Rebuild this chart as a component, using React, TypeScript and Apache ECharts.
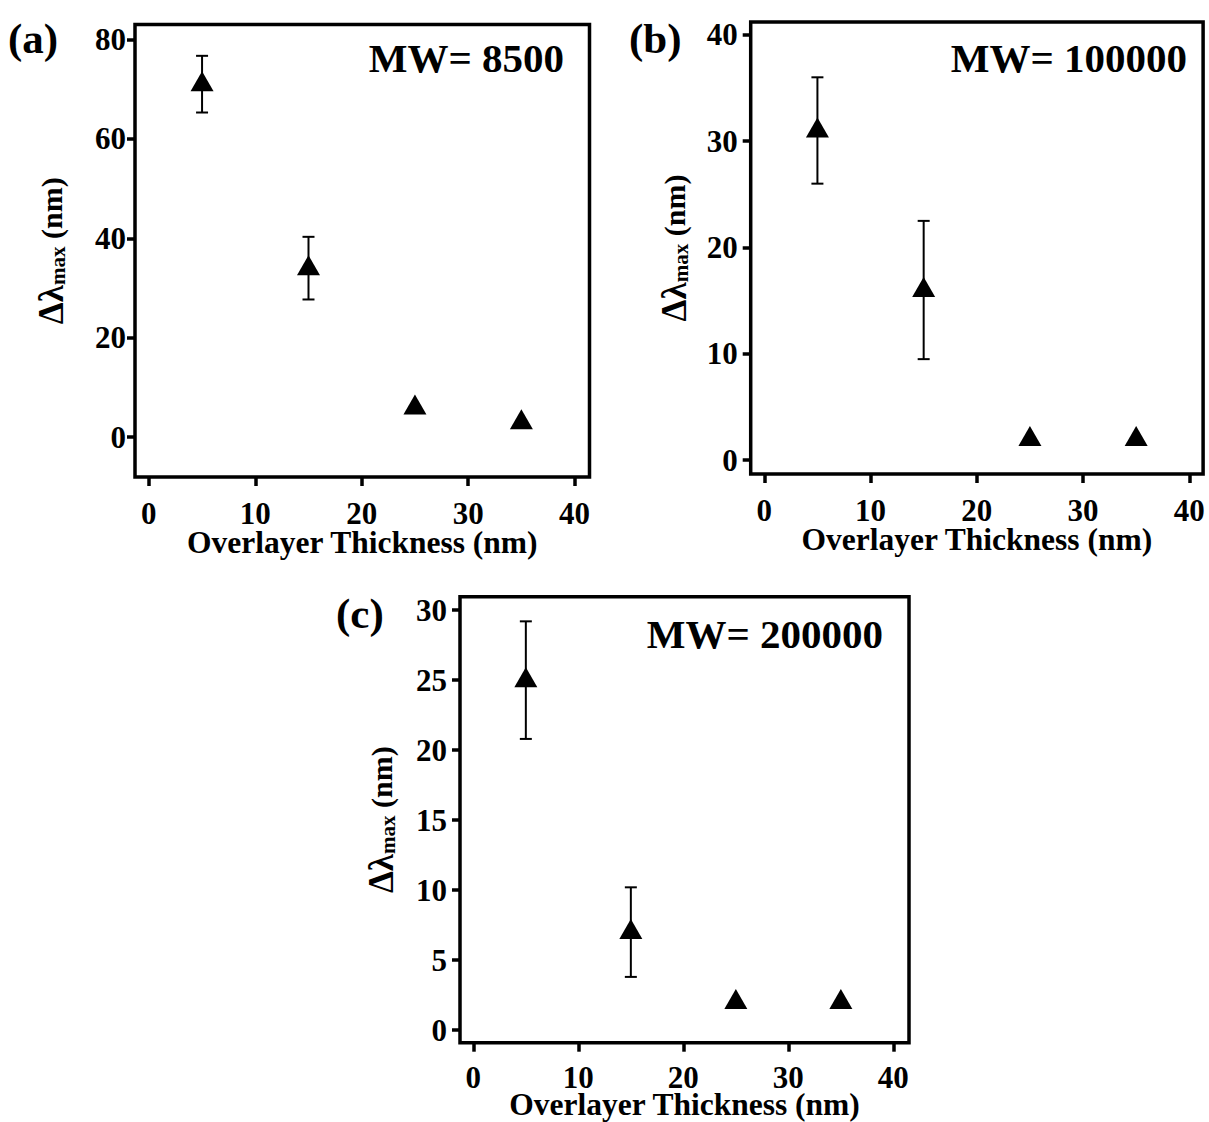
import React, { useEffect, useRef } from "react";
import * as echarts from "echarts";

// ---- data ----
const thickness = [5, 15, 25, 35];

const meanA = [71, 34, 6, 3];
const errA = [5.7, 6.3, 0, 0];

const meanB = [31, 16, 2, 2];
const errB = [5, 6.5, 0, 0];

const meanC = [25, 7, 2, 2];
const errC = [4.2, 3.2, 0, 0];

const xTicks = [0, 10, 20, 30, 40];
const yTicksA = [0, 20, 40, 60, 80];
const yTicksB = [0, 10, 20, 30, 40];
const yTicksC = [0, 5, 10, 15, 20, 25, 30];

const mwLabels = ["MW= 8500", "MW= 100000", "MW= 200000"];
const panelLetters = ["(a)", "(b)", "(c)"];
const xTitle = "Overlayer Thickness (nm)";

const FONT = "'Liberation Serif', 'Times New Roman', serif";

export default function App() {
  const ref = useRef<HTMLDivElement>(null);

  useEffect(() => {
    if (!ref.current) return;
    const chart = echarts.init(ref.current, null, { renderer: "svg" });

    const panels = [
      {
        grid: { left: 135, top: 24.5, width: 454.5, height: 452.5 },
        xr: [-1.3, 41.4],
        yr: [-8, 83],
        yTicks: yTicksA,
        mean: meanA,
        err: errA,
        yMargin: 9,
        yGap: 67,
        xGap: 52,
        xMargin: 24.5,
      },
      {
        grid: { left: 750.7, top: 22, width: 452.4, height: 452 },
        xr: [-1.28, 41.3],
        yr: [-1.3, 41.2],
        yTicks: yTicksB,
        mean: meanB,
        err: errB,
        yMargin: 13,
        yGap: 59,
        xGap: 52,
        xMargin: 24.5,
      },
      {
        grid: { left: 460, top: 596.7, width: 449, height: 446 },
        xr: [-1.27, 41.49],
        yr: [-0.9, 30.96],
        yTicks: yTicksC,
        mean: meanC,
        err: errC,
        yMargin: 13,
        yGap: 62,
        xGap: 49,
        xMargin: 22.5,
      },
    ];

    const grids: any[] = [];
    const xAxes: any[] = [];
    const yAxes: any[] = [];
    const series: any[] = [];

    panels.forEach((p, i) => {
      grids.push({
        ...p.grid,
        show: true,
        borderColor: "#000",
        borderWidth: 3.5,
        backgroundColor: "transparent",
        containLabel: false,
        outerBoundsMode: "none",
      });
      xAxes.push({
        type: "value",
        gridIndex: i,
        min: p.xr[0],
        max: p.xr[1],
        position: "bottom",
        name: xTitle,
        nameLocation: "middle",
        nameGap: p.xGap,
        nameMoveOverlap: false,
        nameTextStyle: {
          fontFamily: FONT,
          fontWeight: "bold",
          fontSize: 31.5,
          lineHeight: 26,
          color: "#000",
        },
        axisLine: { show: false, onZero: false },
        axisTick: {
          show: true,
          length: 9,
          customValues: xTicks,
          lineStyle: { color: "#000", width: 3.5 },
        },
        axisLabel: {
          show: true,
          customValues: xTicks,
          margin: p.xMargin,
          fontFamily: FONT,
          fontWeight: "bold",
          fontSize: 31,
          lineHeight: 24,
          color: "#000",
        },
        splitLine: { show: false },
      });
      yAxes.push({
        type: "value",
        gridIndex: i,
        min: p.yr[0],
        max: p.yr[1],
        position: "left",
        name: "{d|Δλ}{s|max}{a| (nm)}",
        nameLocation: "middle",
        nameRotate: 90,
        nameGap: p.yGap,
        nameMoveOverlap: false,
        nameTextStyle: {
          color: "#000",
          rich: {
            d: {
              fontFamily: FONT,
              fontWeight: "bold",
              fontSize: 35,
              lineHeight: 34,
              color: "#000",
            },
            a: {
              fontFamily: FONT,
              fontWeight: "bold",
              fontSize: 30,
              lineHeight: 34,
              color: "#000",
            },
            s: {
              fontFamily: FONT,
              fontWeight: "bold",
              fontSize: 21,
              lineHeight: 8,
              verticalAlign: "bottom",
              color: "#000",
            },
          },
        },
        axisLine: { show: false, onZero: false },
        axisTick: {
          show: true,
          length: 8,
          customValues: p.yTicks,
          lineStyle: { color: "#000", width: 3.5 },
        },
        axisLabel: {
          show: true,
          customValues: p.yTicks,
          margin: p.yMargin,
          fontFamily: FONT,
          fontWeight: "bold",
          fontSize: 31,
          color: "#000",
        },
        splitLine: { show: false },
      });

      const ebData = thickness
        .map((t, k) => [t, p.mean[k] - p.err[k], p.mean[k] + p.err[k], p.err[k]])
        .filter((d) => d[3] > 0);

      series.push({
        type: "custom",
        coordinateSystem: "cartesian2d",
        xAxisIndex: i,
        yAxisIndex: i,
        encode: { x: 0, y: [1, 2] },
        data: ebData,
        z: 2,
        renderItem: (params: any, api: any) => {
          const x = api.value(0);
          const lo = api.value(1);
          const hi = api.value(2);
          const pt = api.coord([x, hi]);
          const pb = api.coord([x, lo]);
          const hw = 6;
          const st = { stroke: "#000", lineWidth: 2 };
          return {
            type: "group",
            children: [
              { type: "line", shape: { x1: pt[0], y1: pt[1], x2: pb[0], y2: pb[1] }, style: st },
              { type: "line", shape: { x1: pt[0] - hw, y1: pt[1], x2: pt[0] + hw, y2: pt[1] }, style: st },
              { type: "line", shape: { x1: pb[0] - hw, y1: pb[1], x2: pb[0] + hw, y2: pb[1] }, style: st },
            ],
          };
        },
      });

      series.push({
        type: "scatter",
        xAxisIndex: i,
        yAxisIndex: i,
        data: thickness.map((t, k) => [t, p.mean[k]]),
        symbol: "triangle",
        symbolSize: [23, 20],
        symbolOffset: [0, -3],
        itemStyle: { color: "#000", opacity: 1 },
        emphasis: { disabled: true },
        z: 3,
      });
    });

    const mwPos = [
      [564, 57.5],
      [1187, 58],
      [883, 633.6],
    ];
    const letterPos = [
      [8, 38],
      [629, 38],
      [336, 613],
    ];

    const graphics: any[] = [];
    mwLabels.forEach((t, i) => {
      graphics.push({
        type: "text",
        x: mwPos[i][0],
        y: mwPos[i][1],
        z: 10,
        style: {
          text: t,
          fontFamily: FONT,
          fontWeight: "bold",
          fontSize: 41,
          fill: "#000",
          align: "right",
          verticalAlign: "middle",
        },
      });
    });
    panelLetters.forEach((t, i) => {
      graphics.push({
        type: "text",
        x: letterPos[i][0],
        y: letterPos[i][1],
        z: 10,
        style: {
          text: t,
          fontFamily: FONT,
          fontWeight: "bold",
          fontSize: 43,
          fill: "#000",
          align: "left",
          verticalAlign: "middle",
        },
      });
    });

    chart.setOption({
      animation: false,
      backgroundColor: "#fff",
      grid: grids,
      xAxis: xAxes,
      yAxis: yAxes,
      series,
      graphic: graphics,
    });

    return () => chart.dispose();
  }, []);

  return (
    <div
      ref={ref}
      style={{ position: "absolute", left: 0, top: 0, width: 1209, height: 1122 }}
    />
  );
}
